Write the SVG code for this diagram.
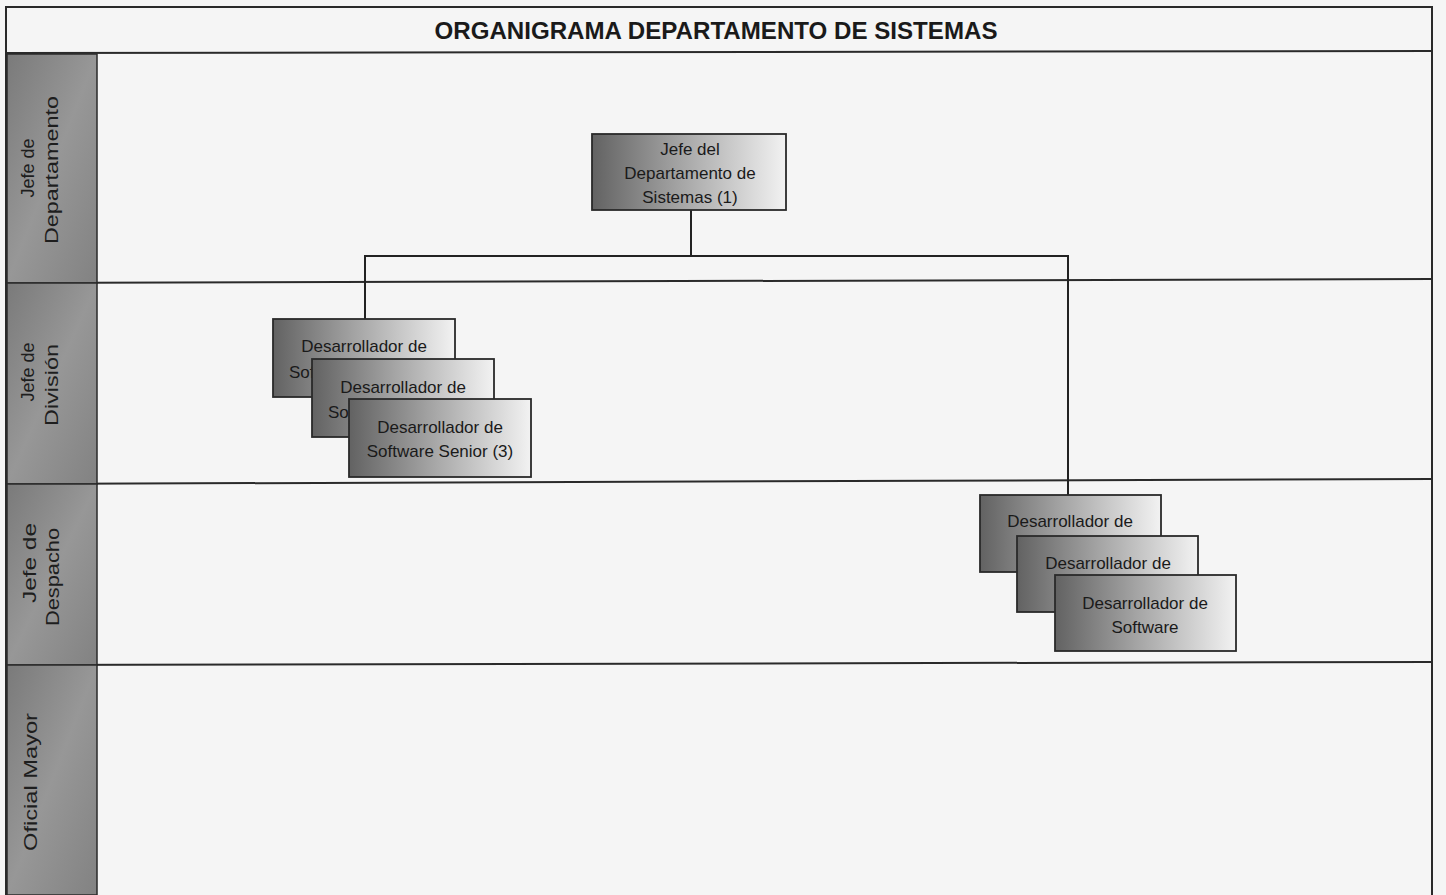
<svg xmlns="http://www.w3.org/2000/svg" width="1446" height="895" viewBox="0 0 1446 895">
<style>
.frame{fill:none;stroke:#2a2a2a;stroke-width:2}
.sep{stroke:#2a2a2a;stroke-width:2}
.lanebg{fill:url(#laneGrad);stroke:#2a2a2a;stroke-width:1.5}
.lane{font-family:"Liberation Sans",Arial,sans-serif;font-size:18px;fill:#1e1e1e}
.title{font-family:"Liberation Sans",Arial,sans-serif;font-size:23px;font-weight:bold;fill:#1a1a1a}
.box{fill:url(#boxGrad);stroke:#2a2a2a;stroke-width:1.8}
.bt{font-family:"Liberation Sans",Arial,sans-serif;font-size:17px;fill:#1a1a1a;text-anchor:middle}
.bl{font-family:"Liberation Sans",Arial,sans-serif;font-size:17px;fill:#1a1a1a}
.conn{fill:none;stroke:#222;stroke-width:2}
</style>
<defs>
<linearGradient id="boxGrad" x1="0" y1="0" x2="1" y2="0">
<stop offset="0" stop-color="#626262"/>
<stop offset="0.45" stop-color="#a4a4a4"/>
<stop offset="1" stop-color="#f2f2f2"/>
</linearGradient>
<linearGradient id="laneGrad" x1="0" y1="0" x2="1" y2="1">
<stop offset="0" stop-color="#7a7a7a"/>
<stop offset="0.5" stop-color="#979797"/>
<stop offset="1" stop-color="#828282"/>
</linearGradient>
</defs>
<rect x="0" y="0" width="1446" height="895" fill="#f5f5f5"/>
<g id="frame">
<rect x="6" y="7" width="1426" height="900" class="frame"/>
<line x1="6" y1="53" x2="1432" y2="51" class="sep"/>
<line x1="6" y1="283" x2="1432" y2="279" class="sep"/>
<line x1="6" y1="484" x2="1432" y2="479" class="sep"/>
<line x1="6" y1="665" x2="1432" y2="662" class="sep"/>
<text class="title" x="716" y="39" text-anchor="middle" textLength="563" lengthAdjust="spacingAndGlyphs">ORGANIGRAMA DEPARTAMENTO DE SISTEMAS</text>
</g>
<g id="lane-labels">
<rect x="7" y="54" width="90" height="229" class="lanebg"/>
<rect x="7" y="283" width="90" height="201" class="lanebg"/>
<rect x="7" y="484" width="90" height="181" class="lanebg"/>
<rect x="7" y="665" width="90" height="230" class="lanebg"/>
<text class="lane" transform="translate(34,168) rotate(-90)" text-anchor="middle">Jefe de</text>
<text class="lane" transform="translate(58,170) rotate(-90)" text-anchor="middle" textLength="148" lengthAdjust="spacingAndGlyphs">Departamento</text>
<text class="lane" transform="translate(34,372) rotate(-90)" text-anchor="middle">Jefe de</text>
<text class="lane" transform="translate(58,385) rotate(-90)" text-anchor="middle" textLength="82" lengthAdjust="spacingAndGlyphs">División</text>
<text class="lane" transform="translate(36,563) rotate(-90)" text-anchor="middle" textLength="80" lengthAdjust="spacingAndGlyphs">Jefe de</text>
<text class="lane" transform="translate(59,577) rotate(-90)" text-anchor="middle" textLength="98" lengthAdjust="spacingAndGlyphs">Despacho</text>
<text class="lane" transform="translate(37,782) rotate(-90)" text-anchor="middle" textLength="138" lengthAdjust="spacingAndGlyphs">Oficial Mayor</text>
</g>
<g id="connectors">
<path class="conn" d="M691,210 V255"/>
<path class="conn" d="M365,320 V256 H1068 V496"/>
</g>
<g id="node-jefe">
<rect x="592" y="134" width="194" height="76" class="box"/>
<text class="bt" x="690" y="155">Jefe del</text>
<text class="bt" x="690" y="179">Departamento de</text>
<text class="bt" x="690" y="203">Sistemas (1)</text>
</g>
<g id="node-senior-1">
<rect x="273" y="319" width="182" height="78" class="box"/>
<text class="bt" x="364" y="352">Desarrollador de</text>
<text class="bl" x="289" y="378">Sof</text>
</g>
<g id="node-senior-2">
<rect x="312" y="359" width="182" height="78" class="box"/>
<text class="bt" x="403" y="393">Desarrollador de</text>
<text class="bl" x="328" y="418">So</text>
</g>
<g id="node-senior-3">
<rect x="349" y="399" width="182" height="78" class="box"/>
<text class="bt" x="440" y="433">Desarrollador de</text>
<text class="bt" x="440" y="457">Software Senior (3)</text>
</g>
<g id="node-dev-1">
<rect x="980" y="495" width="181" height="77" class="box"/>
<text class="bt" x="1070" y="527">Desarrollador de</text>
</g>
<g id="node-dev-2">
<rect x="1017" y="536" width="181" height="76" class="box"/>
<text class="bt" x="1108" y="569">Desarrollador de</text>
</g>
<g id="node-dev-3">
<rect x="1055" y="575" width="181" height="76" class="box"/>
<text class="bt" x="1145" y="609">Desarrollador de</text>
<text class="bt" x="1145" y="633">Software</text>
</g>
</svg>
